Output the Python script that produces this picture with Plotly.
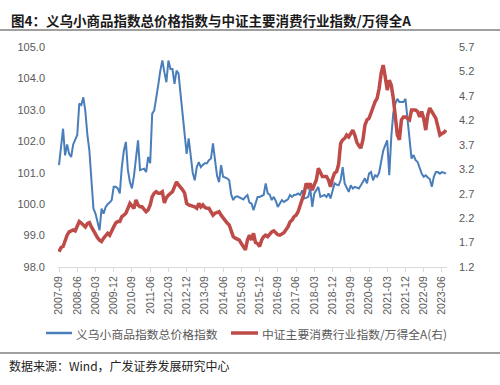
import pandas as pd
import plotly.graph_objects as go

months = [p.strftime("%Y-%m") for p in pd.period_range("2007-09", periods=192, freq="M")]

yiwu_index = [
    101.24, 101.8, 102.4, 101.55, 101.9, 101.6, 101.5, 101.9, 102.05, 102.2,
    103.2, 103.15, 103.4, 102.95, 102.2, 101.7, 100.76, 99.86, 99.7, 99.4,
    99.17, 99.86, 99.7, 99.9, 100.0, 100.05, 100.13, 100.55, 100.55, 100.5,
    100.34, 101.18, 101.7, 101.98, 101.08, 100.7, 100.5, 100.9, 101.5, 102.03,
    101.08, 101.1, 101.13, 101.02, 101.5, 101.3, 102.88, 102.98, 103.35, 103.8,
    104.25, 104.57, 104.2, 103.88, 104.57, 104.3, 104.3, 103.83, 104.25, 104.15,
    103.5, 102.88, 102.45, 101.6, 102.09, 101.6, 101.0, 100.76, 101.18, 101.34,
    101.18, 101.25, 101.3, 101.3, 101.4, 101.45, 101.93, 101.4, 100.9, 100.7,
    101.24, 100.87, 100.85, 100.82, 100.76, 100.3, 100.13, 100.23, 100.25, 100.22,
    100.18, 100.15, 100.23, 100.29, 100.05, 100.02, 99.81, 100.05, 100.23, 100.23,
    100.25, 100.29, 100.66, 100.34, 100.3, 100.13, 100.23, 100.1, 99.91, 100.02,
    100.13, 100.07, 100.12, 100.15, 100.29, 100.23, 100.29, 100.3, 100.34, 100.29,
    100.44, 100.18, 100.2, 100.23, 100.5, 99.91, 100.34, 100.45, 100.55, 100.23,
    100.26, 100.29, 100.23, 100.34, 100.18, 100.44, 100.66, 100.62, 100.6, 100.76,
    101.18, 100.66, 100.5, 100.39, 100.6, 100.5, 100.55, 100.52, 100.5, 100.6,
    100.7, 100.82, 100.66, 100.97, 101.02, 100.76, 100.92, 100.87, 101.0, 101.4,
    101.7, 101.87, 102.03, 100.92, 102.14, 102.9, 103.2, 103.35, 103.25, 103.25,
    103.25, 103.35, 102.67, 102.03, 101.45, 101.56, 101.4, 101.34, 101.13, 100.97,
    100.87, 100.92, 100.85, 100.8, 100.55, 100.87, 101.02, 101.02, 100.97, 101.02,
    101.0, 100.97,
]

consumer_ratio = [
    1.51, 1.60, 1.62, 1.75, 1.85, 1.92, 1.94, 1.96, 1.94, 2.05,
    2.13, 2.10, 2.06, 2.02, 2.09, 2.11, 2.02, 1.95, 1.85, 1.80,
    1.75, 1.72, 1.79, 1.85, 1.89, 1.85, 1.96, 2.02, 2.10, 2.13,
    2.13, 2.23, 2.26, 2.30, 2.40, 2.50, 2.45, 2.40, 2.57, 2.47,
    2.43, 2.43, 2.38, 2.33, 2.37, 2.47, 2.64, 2.71, 2.74, 2.71,
    2.71, 2.74, 2.51, 2.62, 2.67, 2.71, 2.74, 2.84, 2.94, 2.88,
    2.84, 2.78, 2.71, 2.50, 2.47, 2.46, 2.45, 2.43, 2.40, 2.50,
    2.43, 2.47, 2.42, 2.40, 2.40, 2.33, 2.26, 2.30, 2.32, 2.33,
    2.26, 2.20, 2.16, 2.10, 2.06, 1.92, 1.82, 1.79, 1.77, 1.75,
    1.68, 1.60, 1.55, 1.75, 1.85, 1.75, 1.89, 1.70, 1.68, 1.62,
    1.75, 1.82, 1.85, 1.82, 1.88, 1.92, 1.94, 1.89, 1.86, 1.85,
    1.87, 1.90, 1.96, 2.02, 2.12, 2.16, 2.23, 2.26, 2.33, 2.45,
    2.62, 2.71, 2.91, 2.84, 2.91, 2.77, 2.88, 2.98, 3.22, 3.15,
    3.05, 3.05, 3.05, 2.98, 2.84, 3.01, 3.12, 3.15, 3.30, 3.73,
    3.80, 3.83, 3.90, 3.86, 3.92, 4.00, 3.90, 3.75, 3.68, 3.63,
    3.80, 4.10, 4.21, 4.24, 4.35, 4.48, 4.58, 4.65, 4.85, 5.16,
    5.33, 5.09, 4.82, 5.02, 4.92, 4.65, 4.21, 3.90, 3.80, 4.21,
    4.27, 4.27, 4.24, 4.21, 4.41, 4.41, 4.41, 4.38, 4.27, 4.38,
    4.24, 4.00, 4.31, 4.45, 4.38, 4.30, 4.24, 4.07, 3.90, 3.93,
    3.95, 4.00,
]

tick_labels = months[::9]
left_ticks = [98.0, 99.0, 100.0, 101.0, 102.0, 103.0, 104.0, 105.0]
right_ticks = [1.2, 1.7, 2.2, 2.7, 3.2, 3.7, 4.2, 4.7, 5.2, 5.7]

title_text = "图4：义乌小商品指数总价格指数与中证主要消费行业指数/万得全A"
legend_names = ["义乌小商品指数总价格指数", "中证主要消费行业指数/万得全A(右)"]
source_text = "数据来源：Wind，广发证券发展研究中心"

BLUE = "#4A7EBB"
RED = "#BE4B48"
GRAY = "#595959"
CJK = "Noto Sans CJK SC"
LAT = "Liberation Sans"

W, H = 500, 385
L, R, T, B = 58, 53, 47, 118
pw, ph = W - L - R, H - T - B

def px(x):
    return (x - L) / pw

def py(y):
    return (H - B - y) / ph

fig = go.Figure()
fig.add_trace(go.Scatter(x=months, y=yiwu_index, mode="lines", name=legend_names[0],
                         line=dict(color=BLUE, width=2), showlegend=False))
fig.add_trace(go.Scatter(x=months, y=consumer_ratio, mode="lines", name=legend_names[1],
                         line=dict(color=RED, width=3.5), yaxis="y2", showlegend=False))

shapes = [
    dict(type="line", xref="paper", yref="paper", x0=px(0), x1=px(500), y0=py(30), y1=py(30),
         line=dict(color="#7F7F7F", width=1.5)),
    dict(type="line", xref="paper", yref="paper", x0=px(0), x1=px(500), y0=py(353), y1=py(353),
         line=dict(color="#7F7F7F", width=1.5)),
    dict(type="line", xref="paper", yref="paper", x0=px(46), x1=px(72), y0=py(333), y1=py(333),
         line=dict(color=BLUE, width=2.5)),
    dict(type="line", xref="paper", yref="paper", x0=px(231), x1=px(258), y0=py(333), y1=py(333),
         line=dict(color=RED, width=3.5)),
]

annotations = [
    dict(text="<b>" + title_text + "</b>", xref="paper", yref="paper", x=px(9), y=py(20),
         xanchor="left", yanchor="middle", showarrow=False,
         font=dict(family=CJK, size=13.5, color="#1a1a1a")),
    dict(text=legend_names[0], xref="paper", yref="paper", x=px(74), y=py(333), xanchor="left",
         yanchor="middle", showarrow=False, font=dict(family=CJK, size=11.8, color=GRAY)),
    dict(text=legend_names[1], xref="paper", yref="paper", x=px(260), y=py(333), xanchor="left",
         yanchor="middle", showarrow=False, font=dict(family=CJK, size=11.8, color=GRAY)),
    dict(text=source_text, xref="paper", yref="paper", x=px(7), y=py(365), xanchor="left",
         yanchor="middle", showarrow=False, font=dict(family=CJK, size=12, color="#222222")),
]

fig.update_layout(
    width=W, height=H,
    margin=dict(l=L, r=R, t=T, b=B, pad=0),
    paper_bgcolor="white", plot_bgcolor="white",
    font=dict(family=LAT, size=11, color=GRAY),
    showlegend=False,
    shapes=shapes,
    annotations=annotations,
    xaxis=dict(type="category", categoryorder="array", categoryarray=months,
               range=[-0.5, len(months) - 0.5],
               tickmode="array", tickvals=tick_labels, ticktext=tick_labels,
               tickangle=-90, tickfont=dict(family=LAT, size=10.5, color=GRAY),
               showline=True, linecolor="#D9D9D9", linewidth=1,
               ticks="outside", ticklen=4, tickcolor="#D9D9D9",
               showgrid=False, zeroline=False, fixedrange=True),
    yaxis=dict(range=[98, 105], tickmode="array", tickvals=left_ticks,
               ticktext=[f"{v:.1f}" for v in left_ticks],
               tickfont=dict(family=LAT, size=11, color=GRAY),
               showgrid=False, zeroline=False, showline=False, ticks="",
               ticklabelstandoff=12),
    yaxis2=dict(range=[1.2, 5.7], overlaying="y", side="right", tickmode="array",
                tickvals=right_ticks, ticktext=[f"{v:.1f}" for v in right_ticks],
                tickfont=dict(family=LAT, size=11, color=GRAY),
                showgrid=False, zeroline=False, showline=False, ticks="",
                ticklabelstandoff=11),
)

fig.write_html("out.html")
